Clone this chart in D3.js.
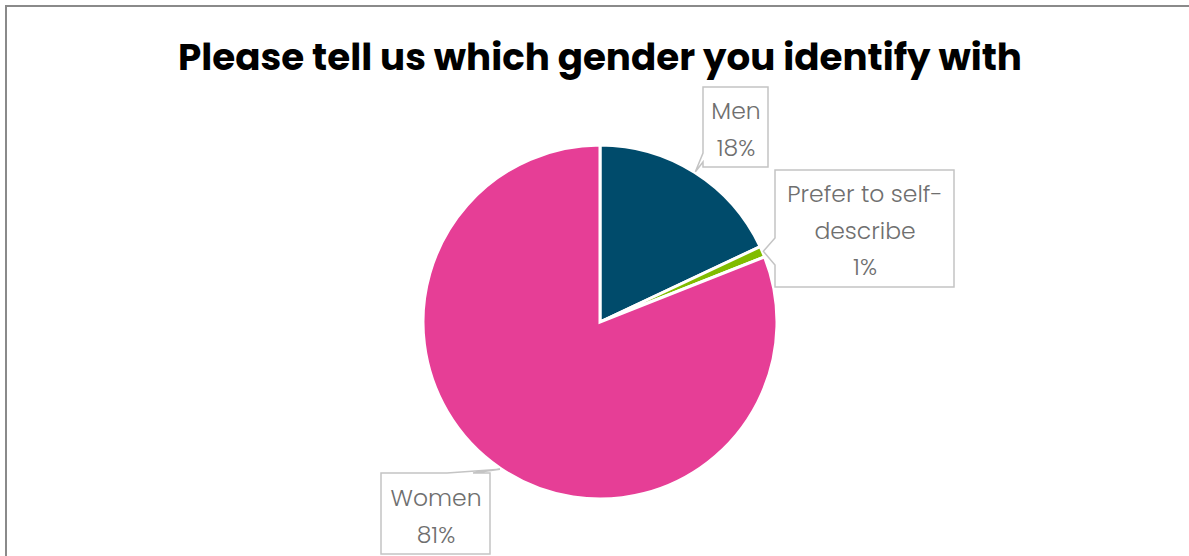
<!DOCTYPE html>
<html>
<head>
<meta charset="utf-8">
<script src="https://cdn.jsdelivr.net/npm/d3@7"></script>
<style>
  html, body { margin: 0; padding: 0; background: #fff; overflow: hidden; }
  svg { display: block; }
</style>
</head>
<body>
<svg id="chart" width="1189" height="556"></svg>
<script>
// Survey responses: gender identification (percent of respondents)
const categories = ["Men", "Prefer to self-describe", "Women"];
const values = [18, 1, 81];
const labelLines = [["Men", "18%"], ["Prefer to self-", "describe", "1%"], ["Women", "81%"]];
const colors = ["#004b6b", "#80bc00", "#e63e96"];
const title = "Please tell us which gender you identify with";

const W = 1189, H = 556;
const svg = d3.select("#chart");

// chart frame (extends beyond the visible window on the right and bottom)
svg.append("rect")
  .attr("x", 6).attr("y", 6).attr("width", 1400).attr("height", 800)
  .attr("fill", "#fff").attr("stroke", "#8a8a8a").attr("stroke-width", 2);

// title, fitted to its measured width
const titleText = svg.append("text")
  .attr("x", 600).attr("y", 70)
  .attr("text-anchor", "middle")
  .attr("font-family", "Poppins, Inter, 'Noto Sans', sans-serif")
  .attr("font-weight", 700)
  .attr("font-size", 36)
  .attr("fill", "#000")
  .text(title);
const tw = titleText.node().getComputedTextLength();
titleText.attr("font-size", 36 * 844 / tw);

// pie
const cx = 600, cy = 322, r = 177;
const pie = d3.pie().sort(null).value(d => d)(values);
const arc = d3.arc().innerRadius(0).outerRadius(r);

const g = svg.append("g").attr("transform", `translate(${cx},${cy})`);
g.selectAll("path.slice")
  .data(pie)
  .join("path")
  .attr("class", "slice")
  .attr("d", arc)
  .attr("fill", (d, i) => colors[i])
  .attr("stroke", "#fff")
  .attr("stroke-width", 3)
  .attr("stroke-linejoin", "miter");

// callout boxes: box rectangle, which side carries the pointer, where on that side the base sits
const boxes = [
  { x: 703, y: 87, w: 65, h: 80, side: "left", b0: 153, b1: 162, lineY: [111, 148] },
  { x: 775, y: 170, w: 179, h: 117, side: "left", b0: 238, b1: 265, lineY: [194, 231, 267] },
  { x: 381, y: 473, w: 109, h: 81, side: "top", b0: 447, b1: 473, lineY: [498, 535] }
];

function calloutPath(b, tip) {
  const x0 = b.x, y0 = b.y, x1 = b.x + b.w, y1 = b.y + b.h;
  const p = d3.path();
  if (b.side === "left") {
    p.moveTo(x0, y0); p.lineTo(x1, y0); p.lineTo(x1, y1); p.lineTo(x0, y1);
    p.lineTo(x0, b.b1); p.lineTo(tip[0], tip[1]); p.lineTo(x0, b.b0); p.closePath();
  } else {
    p.moveTo(x0, y0); p.lineTo(b.b0, y0); p.lineTo(tip[0], tip[1]); p.lineTo(b.b1, y0);
    p.lineTo(x1, y0); p.lineTo(x1, y1); p.lineTo(x0, y1); p.closePath();
  }
  return p.toString();
}

pie.forEach((d, i) => {
  const b = boxes[i];
  const mid = (d.startAngle + d.endAngle) / 2;
  const tip = [cx + Math.sin(mid) * (r + 1), cy - Math.cos(mid) * (r + 1)];
  svg.append("path")
    .attr("d", calloutPath(b, tip))
    .attr("fill", "#fff")
    .attr("stroke", "#c4c4c4")
    .attr("stroke-width", 1.5)
    .attr("stroke-linejoin", "miter");
  labelLines[i].forEach((line, j) => {
    svg.append("text")
      .attr("x", b.x + b.w / 2 + 0.5)
      .attr("y", b.lineY[j])
      .attr("dy", "0.36em")
      .attr("text-anchor", "middle")
      .attr("font-family", "Poppins, 'Open Sans', 'Noto Sans', sans-serif")
      .attr("font-weight", 300)
      .attr("font-size", 23.5)
      .attr("fill", "#6f6f6f")
      .text(line);
  });
});
</script>
</body>
</html>
